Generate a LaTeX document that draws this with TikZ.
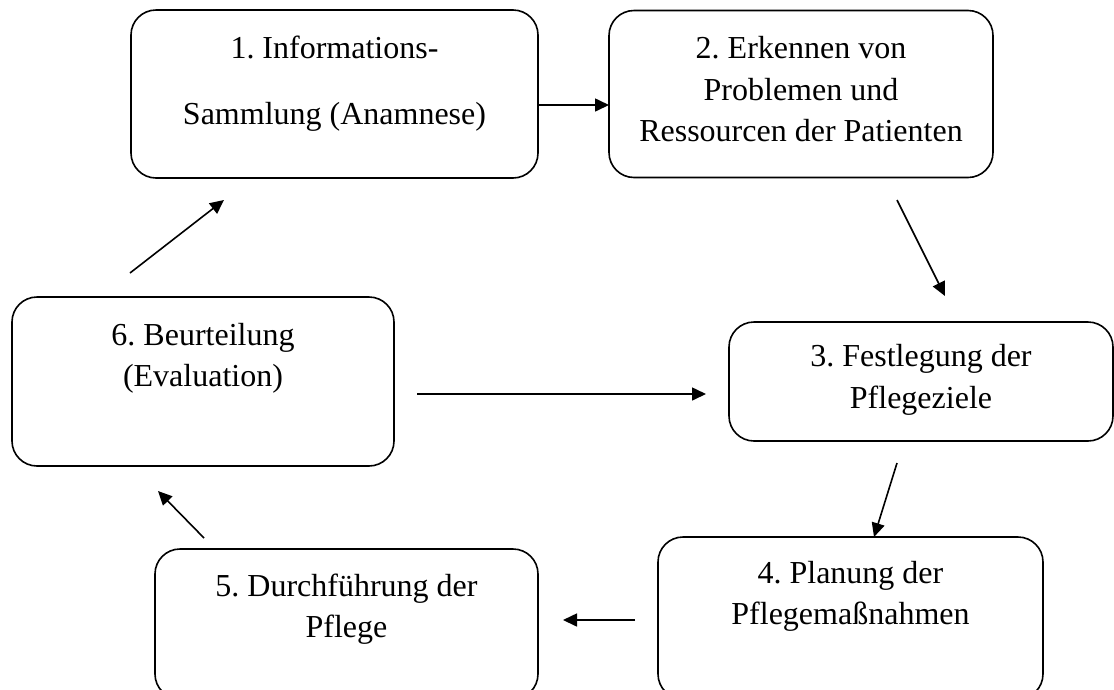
\documentclass[tikz,border=0pt]{standalone}
\usepackage{fontspec}
\setmainfont{Liberation Serif}
\usetikzlibrary{positioning, arrows.meta}

\begin{document}
\begin{tikzpicture}[
  x=1pt, y=-1pt,
  font=\fontsize{32}{41.5}\selectfont\frenchspacing,
  stepbox/.style={
    rectangle, rounded corners=25pt, draw, line width=1.6pt,
    inner sep=0pt, outer sep=0pt, anchor=north west,
    align=flush center, text height=47pt
  },
  arr/.style={-{Triangle[length=14pt, width=13pt]}, line width=1.6pt},
]
\useasboundingbox (0,0) rectangle (1114,689);

% Schritte
\node[stepbox, text width=407pt, text height=48pt, text depth=120pt] (sammlung) at (131,10)
  {1. Informations-\\[24.5pt]Sammlung (Anamnese)};
\node[stepbox, text width=384pt, text height=48pt, text depth=119pt, right=71pt of sammlung] (probleme)
  {2. Erkennen von\\Problemen und\\Ressourcen der Patienten};
\node[stepbox, text width=384pt, text height=44.5pt, text depth=74.5pt] (ziele) at (729,322)
  {3. Festlegung der\\Pflegeziele};
\node[stepbox, text width=385pt, text height=46pt, text depth=116pt] (planung) at (658,537)
  {4. Planung der\\Pflegemaßnahmen};
\node[stepbox, text width=383pt, text depth=103pt] (pflege) at (155,549)
  {5. Durchführung der\\Pflege};
\node[stepbox, text width=382pt, text height=48pt, text depth=121pt] (evaluation) at (12,297)
  {6. Beurteilung\\(Evaluation)};

% freie Pfeilenden
\coordinate (von23) at (897,200);
\coordinate (bis23) at (945,296);
\coordinate (von34) at (897,463);
\coordinate (von45) at (635,620);
\coordinate (bis45) at (563,620);
\coordinate (von56) at (204,538);
\coordinate (bis56) at (158,491);
\coordinate (von61) at (130,273);
\coordinate (bis61) at (224,200);
\coordinate (von63) at (417,394);
\coordinate (bis63) at (706,394);

% Pfeile
\draw[arr] ([yshift=-11pt]sammlung.east) -- ([yshift=-11pt]sammlung.east -| probleme.west);
\draw[arr] (von23) -- (bis23);
\draw[arr] (von34) -- ([xshift=23.5pt]planung.north);
\draw[arr] (von45) -- (bis45);
\draw[arr] (von56) -- (bis56);
\draw[arr] (von61) -- (bis61);
\draw[arr] (von63) -- (bis63);

\end{tikzpicture}
\end{document}
